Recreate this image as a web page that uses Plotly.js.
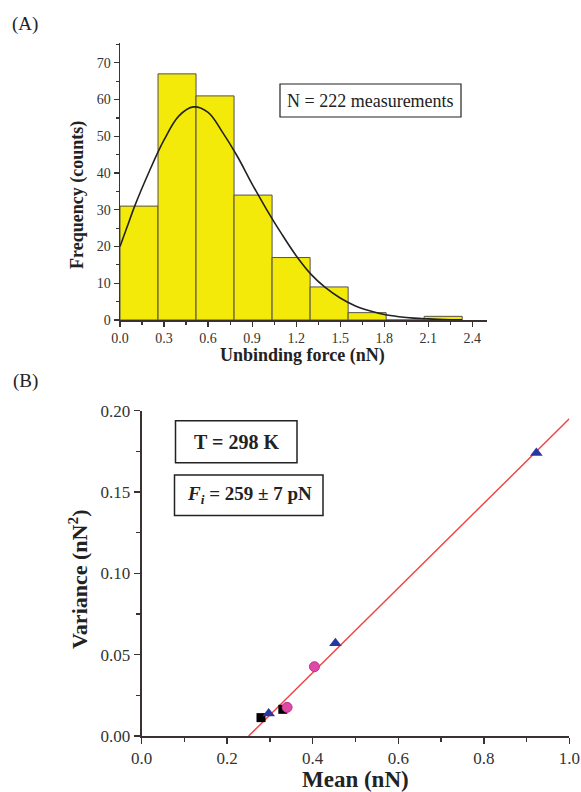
<!DOCTYPE html>
<html><head><meta charset="utf-8">
<script src="https://cdn.plot.ly/plotly-3.0.1.min.js"></script>
<style>html,body{margin:0;padding:0;background:#fff}#c{width:581px;height:792px}</style>
</head><body><div id="c"></div>
<script>
// Panel A: histogram of unbinding force
const binWidth = 0.259;
const binStart = [0, 0.259, 0.518, 0.777, 1.036, 1.295, 1.554, 1.813, 2.072];
const counts   = [31, 67, 61, 34, 17, 9, 2, 0, 1];
// fitted distribution curve
const fitX = [0, 0.05, 0.1, 0.2, 0.3, 0.4, 0.5, 0.6, 0.7, 0.8, 0.9, 1.0, 1.1, 1.2, 1.3, 1.4, 1.5, 1.6, 1.7, 1.8, 1.9, 2.0, 2.1, 2.2, 2.33];
const fitY = [20, 25.5, 31, 40.5, 49, 55.5, 58, 56.5, 51, 44.5, 37, 30, 23.5, 17.5, 12.5, 8.8, 6, 3.9, 2.5, 1.5, 0.9, 0.5, 0.3, 0.15, 0.05];
// Panel B: variance vs mean
const sqX = [0.279, 0.330], sqY = [0.0113, 0.0164];
const triX = [0.297, 0.453, 0.923], triY = [0.0139, 0.057, 0.174];
const cirX = [0.340, 0.404], cirY = [0.0176, 0.0426];
const fitLineX = [0.25, 1.0], fitLineY = [0, 0.195];

const W = 581, H = 792;
const px = v => v / W, py = v => 1 - v / H;
const serif = "Liberation Serif, Times New Roman, serif";
const axCol = "#3a3232";

const traces = [
  {type:'bar', x: binStart, y: counts, width: binWidth, offset: 0, xaxis:'x', yaxis:'y',
   marker:{color:'#f4ea0a', line:{color:'#555049', width:1}}, hoverinfo:'skip'},
  {type:'scatter', mode:'lines', x: fitX, y: fitY, xaxis:'x', yaxis:'y',
   line:{color:'#222', width:1.6, shape:'spline'}},
  {type:'scatter', mode:'lines', x: fitLineX, y: fitLineY, xaxis:'x2', yaxis:'y2',
   line:{color:'#f04040', width:1.4}},
  {type:'scatter', mode:'markers', x: sqX, y: sqY, xaxis:'x2', yaxis:'y2',
   marker:{symbol:'square', size:9, color:'#000'}},
  {type:'scatter', mode:'markers', x: cirX, y: cirY, xaxis:'x2', yaxis:'y2',
   marker:{symbol:'circle', size:10, color:'#e048a8', line:{color:'#c03090', width:1}}},
  {type:'scatter', mode:'markers', x: triX, y: triY, xaxis:'x2', yaxis:'y2',
   marker:{symbol:'triangle-up', size:11, color:'#2838a0'}}
];

function ann(text, x, y, size, extra) {
  return Object.assign({text, xref:'paper', yref:'paper', x:px(x), y:py(y),
    xanchor:'center', yanchor:'middle', showarrow:false,
    font:{family:serif, size, color:'#222'}}, extra || {});
}

const layout = {
  width: W, height: H, margin:{l:0,r:0,t:0,b:0},
  paper_bgcolor:'#fff', plot_bgcolor:'rgba(0,0,0,0)', showlegend:false,
  font:{family: serif, color:'#222'},
  xaxis:{domain:[px(120), px(487)], range:[0, 2.5], anchor:'y',
    tickmode:'linear', tick0:0, dtick:0.3, tickformat:'.1f',
    ticks:'outside', ticklen:5, tickwidth:1.2, tickcolor:axCol,
    minor:{dtick:0.15, ticks:'outside', ticklen:3, tickcolor:axCol},
    showline:true, linecolor:axCol, linewidth:1.5, showgrid:false, zeroline:false,
    tickfont:{family:serif, size:14, color:'#333'}},
  yaxis:{domain:[py(320), py(43)], range:[0, 75.4], anchor:'x',
    tickmode:'linear', tick0:0, dtick:10,
    ticks:'outside', ticklen:5, tickwidth:1.2, tickcolor:axCol,
    minor:{dtick:5, ticks:'outside', ticklen:3, tickcolor:axCol},
    showline:true, linecolor:axCol, linewidth:1.5, showgrid:false, zeroline:false,
    tickfont:{family:serif, size:14, color:'#333'}},
  xaxis2:{domain:[px(141.7), px(569.3)], range:[0, 1.0], anchor:'y2',
    tickmode:'linear', tick0:0, dtick:0.2, tickformat:'.1f',
    ticks:'outside', ticklen:6, tickwidth:1.5, tickcolor:axCol,
    minor:{dtick:0.1, ticks:'outside', ticklen:4, tickcolor:axCol},
    showline:true, linecolor:axCol, linewidth:2, showgrid:false, zeroline:false,
    tickfont:{family:serif, size:17, color:'#333'}},
  yaxis2:{domain:[py(736), py(410.7)], range:[0, 0.2], anchor:'x2',
    tickmode:'linear', tick0:0, dtick:0.05, tickformat:'.2f',
    ticks:'outside', ticklen:6, tickwidth:1.5, tickcolor:axCol,
    minor:{dtick:0.025, ticks:'outside', ticklen:4, tickcolor:axCol},
    showline:true, linecolor:axCol, linewidth:2, showgrid:false, zeroline:false,
    tickfont:{family:serif, size:17, color:'#333'}},
  shapes:[
    {type:'rect', xref:'paper', yref:'paper', x0:px(280), x1:px(461), y0:py(117), y1:py(84), line:{color:'#222', width:1.2}},
    {type:'rect', xref:'paper', yref:'paper', x0:px(175.5), x1:px(297), y0:py(462.7), y1:py(420.7), line:{color:'#222', width:1.5}},
    {type:'rect', xref:'paper', yref:'paper', x0:px(174.5), x1:px(323), y0:py(515.5), y1:py(475), line:{color:'#222', width:1.5}}
  ],
  annotations:[
    ann('(A)', 25, 24, 19),
    ann('(B)', 25, 381, 19),
    ann('N = 222 measurements', 370.5, 100.5, 18),
    ann('<b>T = 298 K</b>', 236, 441.7, 20),
    ann('<b><i>F<sub>i</sub></i> = 259 ± 7 pN</b>', 249, 495, 19),
    ann('<b>Frequency (counts)</b>', 77, 195, 18, {textangle:-90}),
    ann('<b>Unbinding force (nN)</b>', 303, 355, 18),
    ann('<b>Variance (nN<sup>2</sup>)</b>', 78, 579, 22, {textangle:-90}),
    ann('<b>Mean (nN)</b>', 355, 779, 23)
  ]
};
Plotly.newPlot('c', traces, layout, {displayModeBar:false, staticPlot:true});
</script></body></html>
